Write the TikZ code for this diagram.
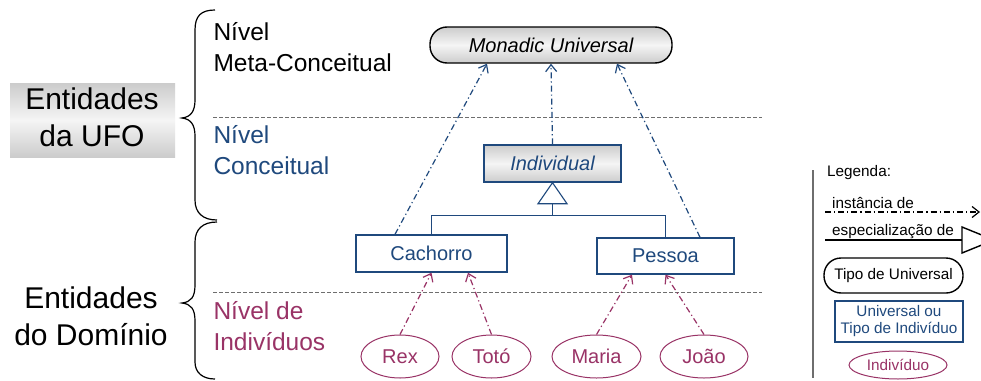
\documentclass[tikz,border=0pt]{standalone}
\usepackage{fontspec}
\setmainfont{Liberation Sans}
\usetikzlibrary{arrows.meta,shapes.geometric}
\definecolor{nblue}{RGB}{31,73,125}
\definecolor{npurple}{RGB}{153,51,102}
\definecolor{ngray}{RGB}{110,110,110}
\tikzset{
  nodefont/.style={font=\fontsize{20}{24}\selectfont},
  levelfont/.style={font=\fontsize{24.5}{31}\selectfont},
  bigfont/.style={font=\fontsize{30}{37}\selectfont},
  legfont/.style={font=\fontsize{15.3}{17}\selectfont},
  texfill/.style={top color=gray!40, bottom color=gray!40, middle color=gray!8},
  metabox/.style={draw=black, line width=1.4pt, rounded corners=17pt, texfill,
    nodefont, inner sep=0pt},
  abstractbox/.style={draw=nblue, line width=1.4pt, texfill, text=nblue,
    nodefont, inner sep=0pt},
  typebox/.style={draw=nblue, line width=1.4pt, fill=white, text=nblue,
    nodefont, inner sep=0pt},
  indiv/.style={ellipse, draw=npurple, line width=1pt, text=npurple,
    nodefont, inner sep=0pt},
  instarrow/.style={line width=1.2pt, dash pattern=on 6pt off 3pt on 1.2pt off 3pt,
    -{Straight Barb[length=7pt,width=11pt,line width=1.2pt]}},
  levelsep/.style={ngray, line width=0.8pt, dash pattern=on 3.5pt off 2.5pt},
  genline/.style={nblue, line width=1.1pt},
  bracepath/.style={line width=1.2pt, black},
}
\begin{document}
\begin{tikzpicture}[x=1pt,y=-1pt]
\useasboundingbox (0,0) rectangle (981,380);
\clip (0,0) rectangle (981,380);
\fill[white] (0,0) rectangle (981,380);

% left-hand group labels
\node[texfill, minimum width=165pt, minimum height=74pt, inner sep=0pt] (ufobg) at (92.5,120) {};
\node[bigfont, align=center] (ufo) at (92,117) {Entidades\\da UFO};
\node[bigfont, align=center] (dom) at (91,316) {Entidades\\do Domínio};

% curly braces
\draw[bracepath] (215,10) .. controls (201,10) and (195,16) .. (195,30)
  -- (195,100) .. controls (195,111) and (191,117) .. (182,118)
  .. controls (191,119) and (195,125) .. (195,136)
  -- (195,200) .. controls (195,213) and (203,220) .. (217,220);
\draw[bracepath] (217,222) .. controls (203,222) and (195,229) .. (195,242)
  -- (195,285) .. controls (195,297) and (191,302) .. (182,303)
  .. controls (191,304) and (195,309) .. (195,321)
  -- (195,362) .. controls (195,373) and (203,379) .. (215,379);

% level labels and separators
\node[levelfont, align=left, anchor=west] (lvmeta) at (210,47) {Nível\\Meta-Conceitual};
\node[levelfont, align=left, anchor=west, text=nblue] (lvconc) at (210,150) {Nível\\Conceitual};
\node[levelfont, align=left, anchor=west, text=npurple] (lvind) at (210,326) {Nível de\\Indivíduos};
\draw[levelsep] (213,117) -- (762,117);
\draw[levelsep] (213,292) -- (762,292);

% meta-conceptual level
\node[metabox, minimum width=242pt, minimum height=36pt] (mu) at (551,45) {\itshape Monadic Universal};

% conceptual level
\node[abstractbox, minimum width=137pt, minimum height=37pt] (ind) at (552.5,163.5) {\itshape Individual};
\node[typebox, minimum width=151pt, minimum height=37pt] (cach) at (431.5,253.5) {Cachorro};
\node[typebox, minimum width=137pt, minimum height=36pt] (pes) at (665.5,256) {Pessoa};

% generalization set
\draw[genline, fill=white] (ind.south) -- ++(14.5,21) -- ++(-29,0) -- cycle;
\coordinate (tribase) at ([yshift=-21pt]ind.south);
\coordinate (join) at ([yshift=-33pt]ind.south);
\draw[genline] (tribase) -- (join);
\draw[genline] (cach.north) |- (join) -| (pes.north);

% instance-of links to the meta level
\draw[instarrow, nblue] ([xshift=-36.5pt]cach.north) -- ([xshift=-64pt]mu.south);
\draw[instarrow, nblue] (ind.north) -- (mu.south);
\draw[instarrow, nblue] ([xshift=34.5pt]pes.north) -- ([xshift=66pt]mu.south);

% individuals
\node[indiv, minimum width=78pt, minimum height=43pt] (rex) at (400,356.5) {Rex};
\node[indiv, minimum width=79pt, minimum height=43pt] (toto) at (491.5,356.5) {Totó};
\node[indiv, minimum width=89pt, minimum height=43pt] (maria) at (596.5,356.5) {Maria};
\node[indiv, minimum width=88pt, minimum height=43pt] (joao) at (704,356.5) {João};

\draw[instarrow, npurple] (rex.north) -- (cach.south);
\draw[instarrow, npurple] (toto.north) -- ([xshift=36.5pt]cach.south);
\draw[instarrow, npurple] (maria.north) -- ([xshift=-33.5pt]pes.south);
\draw[instarrow, npurple] (joao.north) -- (pes.south);

% legend
\draw[ngray, line width=1.2pt] (813,170) -- (813,378);
\node[legfont, anchor=west, inner sep=0pt] (legtitle) at (827,173) {Legenda:};
\node[legfont, anchor=west, inner sep=0pt] (leginst) at (832,203) {instância de};
\coordinate (li0) at (825,212);
\coordinate (li1) at (980,212);
\draw[instarrow, black] (li0) -- (li1);
\node[legfont, anchor=west, inner sep=0pt] (leggen) at (832,232) {especialização de};
\coordinate (lg0) at (825,240);
\coordinate (lg1) at (962,240);
\draw[line width=1.1pt] (lg0) -- (lg1);
\draw[line width=1.4pt, fill=white] (lg1) -- ++(0,-13) -- ++(32,13) -- ++(-32,13) -- cycle;
\node[draw=black, line width=1.4pt, rounded corners=17pt, fill=white, legfont,
  minimum width=139pt, minimum height=35pt, inner sep=0pt] (legmu) at (893.5,275.5) {Tipo de Universal};
\node[draw=nblue, line width=1.4pt, fill=white, text=nblue, legfont, align=center,
  minimum width=128pt, minimum height=41pt, inner sep=0pt] (legtype) at (899,321.5) {Universal ou\\Tipo de Indivíduo};
\node[ellipse, draw=npurple, line width=1pt, text=npurple, legfont,
  minimum width=98pt, minimum height=28pt, inner sep=0pt] (legind) at (898,365) {Indivíduo};
\end{tikzpicture}
\end{document}
